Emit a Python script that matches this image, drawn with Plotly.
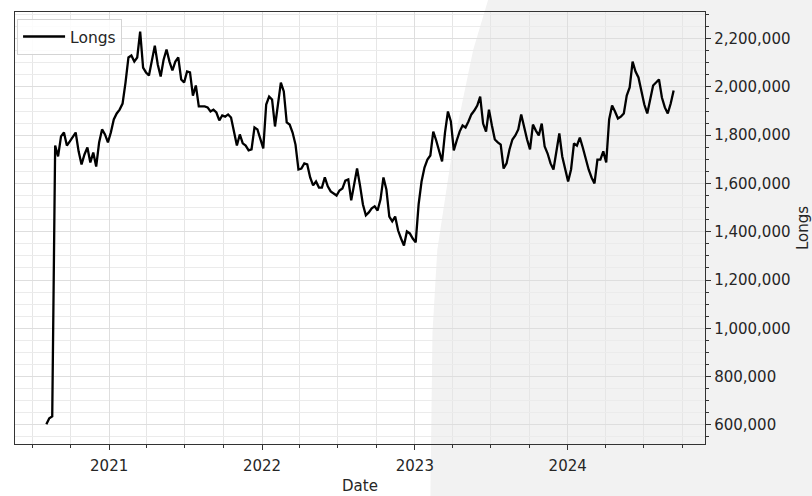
import pandas as pd
import plotly.graph_objects as go

start_date = "2020-08-04"
n_weeks = 215
longs = [
    602000, 627000, 635000, 1757000, 1712000, 1795000, 1811000, 1757000, 1774000, 1795000,
    1811000, 1733000, 1679000, 1720000, 1749000, 1687000, 1728000, 1670000, 1770000, 1824000,
    1803000, 1770000, 1811000, 1865000, 1890000, 1906000, 1931000, 2018000, 2122000, 2130000,
    2105000, 2122000, 2229000, 2080000, 2060000, 2047000, 2113000, 2171000, 2093000, 2043000,
    2113000, 2155000, 2105000, 2068000, 2105000, 2122000, 2031000, 2018000, 2064000, 2060000,
    1964000, 2006000, 1919000, 1919000, 1919000, 1915000, 1898000, 1906000, 1894000, 1861000,
    1882000, 1877000, 1886000, 1873000, 1815000, 1757000, 1803000, 1766000, 1757000, 1737000,
    1741000, 1832000, 1824000, 1782000, 1745000, 1927000, 1960000, 1948000, 1836000, 1927000,
    2018000, 1981000, 1853000, 1844000, 1811000, 1761000, 1658000, 1662000, 1683000, 1679000,
    1625000, 1592000, 1608000, 1583000, 1583000, 1625000, 1588000, 1567000, 1559000, 1550000,
    1571000, 1579000, 1612000, 1617000, 1530000, 1596000, 1662000, 1592000, 1513000, 1468000,
    1480000, 1497000, 1505000, 1488000, 1534000, 1625000, 1575000, 1463000, 1443000, 1463000,
    1405000, 1372000, 1343000, 1401000, 1393000, 1372000, 1356000, 1513000, 1608000, 1666000,
    1699000, 1716000, 1815000, 1778000, 1733000, 1691000, 1811000, 1898000, 1857000, 1737000,
    1778000, 1815000, 1840000, 1832000, 1857000, 1886000, 1902000, 1923000, 1960000, 1848000,
    1815000, 1906000, 1840000, 1782000, 1770000, 1761000, 1662000, 1683000, 1741000, 1782000,
    1799000, 1824000, 1886000, 1832000, 1782000, 1741000, 1844000, 1819000, 1799000, 1848000,
    1753000, 1724000, 1683000, 1658000, 1741000, 1807000, 1712000, 1658000, 1608000, 1658000,
    1766000, 1757000, 1790000, 1749000, 1703000, 1658000, 1625000, 1600000, 1699000, 1699000,
    1733000, 1687000, 1865000, 1923000, 1898000, 1869000, 1877000, 1890000, 1964000, 1998000,
    2105000, 2064000, 2039000, 1981000, 1927000, 1890000, 1948000, 2006000, 2018000, 2031000,
    1956000, 1915000, 1890000, 1931000, 1985000,
]
year_ticks = ["2021-01-01", "2022-01-01", "2023-01-01", "2024-01-01"]
year_labels = ["2021", "2022", "2023", "2024"]

dates = pd.date_range(start_date, periods=n_weeks, freq="7D")

FONT = "DejaVu Sans"
TXT = "#262626"

fig = go.Figure()
fig.add_trace(go.Scatter(x=dates, y=longs, mode="lines", name="Longs",
                         line=dict(color="black", width=2.3)))

span = dates[-1] - dates[0]
xr = [dates[0] - span * 0.05, dates[-1] + span * 0.05]
vmin, vmax = min(longs), max(longs)
ypad = (vmax - vmin) * 0.05
yr = [vmin - ypad, vmax + ypad]

# light shading of the photographed page (background artifact)
fig.add_shape(type="path", xref="paper", yref="paper", layer="below",
              path="M 0.686 1.03 L 0.664 0.912 L 0.634 0.681 L 0.612 0.449 "
                   "L 0.605 0.257 L 0.602 -0.125 L 1.16 -0.125 L 1.16 1.03 Z",
              fillcolor="#f2f2f2", line=dict(width=0))

fig.update_layout(
    width=812, height=496,
    margin=dict(l=15, r=107, t=12, b=52),
    paper_bgcolor="white", plot_bgcolor="white",
    font=dict(family=FONT, size=15, color=TXT),
    showlegend=True,
    legend=dict(x=0.003, y=0.984, xanchor="left", yanchor="top",
                bgcolor="rgba(255,255,255,0.85)", bordercolor="#d4d4d4", borderwidth=1,
                itemwidth=42,
                font=dict(size=15.5, color=TXT)),
)
fig.update_xaxes(
    range=xr, tickvals=year_ticks, ticktext=year_labels,
    ticks="outside", ticklen=5, tickwidth=1.2, tickcolor="#333",
    ticklabelstandoff=3,
    showline=True, linecolor="#333", linewidth=1.3, mirror=True,
    showgrid=True, gridcolor="#dedede", gridwidth=1, zeroline=False,
    minor=dict(dtick="M3", tick0="2020-01-01", ticks="outside", ticklen=3,
               tickcolor="#333", showgrid=True, gridcolor="#e6e6e6"),
    title=dict(text="Date", font=dict(size=15, color=TXT), standoff=6),
    automargin=False,
)
fig.update_yaxes(
    range=yr, side="right", dtick=200000, tick0=0, tickformat=",d",
    ticks="outside", ticklen=5, tickwidth=1.2, tickcolor="#333",
    showline=True, linecolor="#333", linewidth=1.3, mirror=True,
    showgrid=True, gridcolor="#dedede", gridwidth=1, zeroline=False,
    minor=dict(dtick=50000, tick0=0, ticks="outside", ticklen=3,
               tickcolor="#333", showgrid=True, gridcolor="#ebebeb"),
    title=dict(text="Longs", font=dict(size=15, color=TXT), standoff=11),
    automargin=False,
)

fig.write_html("out.html", config={"displayModeBar": False},
               post_script="document.body.style.margin='0';document.body.style.overflow='hidden';")
